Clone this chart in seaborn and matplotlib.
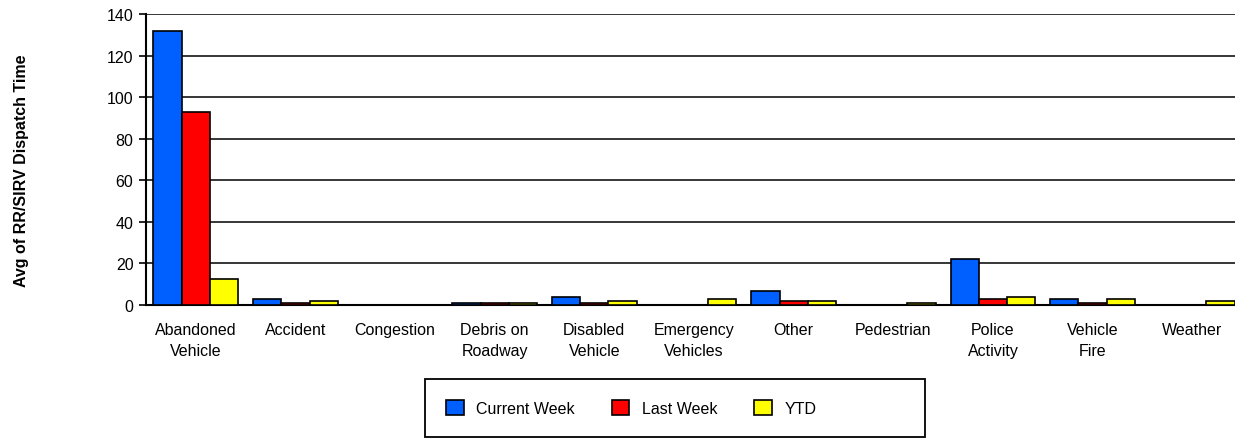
import seaborn as sns
import matplotlib.pyplot as plt
import pandas as pd
from matplotlib.patches import Patch, Rectangle

# 数据：各事件类型的平均派遣时间
categories = ['Abandoned\nVehicle', 'Accident', 'Congestion', 'Debris on\nRoadway',
              'Disabled\nVehicle', 'Emergency\nVehicles', 'Other', 'Pedestrian',
              'Police\nActivity', 'Vehicle\nFire', 'Weather']
current_week = [132, 3, 0, 1, 4, 0, 6.6, 0, 22, 3, 0]
last_week = [93, 1, 0, 1, 1, 0, 2, 0, 3, 1, 0]
ytd = [12.3, 2, 0, 1, 2, 3, 2, 1, 4, 3, 2]
series = ['Current Week', 'Last Week', 'YTD']
colors = ['#0060FF', '#FF0000', '#FFFF00']

df = pd.DataFrame({'category': categories * 3,
                   'value': current_week + last_week + ytd,
                   'series': [s for s in series for _ in categories]})

sns.set_style('white')
plt.rcParams['font.family'] = ['Liberation Sans', 'DejaVu Sans']
plt.rcParams['text.color'] = 'black'
plt.rcParams['xtick.color'] = 'black'
plt.rcParams['ytick.color'] = 'black'

fig = plt.figure(figsize=(12.35, 4.39), dpi=100)
ax = fig.add_axes([146 / 1235, 133 / 439, 1096 / 1235, 291 / 439])

sns.barplot(data=df, x='category', y='value', hue='series', order=categories,
            hue_order=series, palette=colors, saturation=1, width=0.85, gap=0,
            edgecolor='black', linewidth=1.2, legend=False, ax=ax, zorder=3)

ax.set_xlim(-0.5, 10.5)
ax.set_ylim(0, 140)
ax.set_yticks(range(0, 141, 20))
ax.yaxis.grid(True, color='black', linewidth=1.1)
ax.set_axisbelow(True)
for side in ['top', 'right']:
    ax.spines[side].set_visible(False)
for side in ['left', 'bottom']:
    ax.spines[side].set_color('black')
    ax.spines[side].set_linewidth(1.5)
ax.tick_params(axis='y', left=True, length=5, width=1.2, labelsize=11.5, pad=4)
ax.tick_params(axis='x', bottom=False, labelsize=11.5, pad=9)
for lbl in ax.get_xticklabels():
    lbl.set_linespacing(1.45)
ax.set_xlabel('')
ax.set_ylabel('')

fig.text(22 / 1235, 0.61, 'Avg of RR/SIRV Dispatch Time', rotation=90,
         ha='center', va='center', fontsize=11.5, fontweight='bold')

# 图例外框
fig.patches.append(Rectangle((425 / 1235, 1 / 439), 500 / 1235, 58 / 439,
                             transform=fig.transFigure, facecolor='white',
                             edgecolor='black', linewidth=1.3))
handles = [Patch(facecolor=c, edgecolor='black', linewidth=1.2, label=s)
           for c, s in zip(colors, series)]
fig.legend(handles=handles, loc='center left', ncol=3,
           bbox_to_anchor=(446 / 1235, 30 / 439), fontsize=11.5, frameon=False,
           handlelength=1.1, handleheight=1.1, handletextpad=0.8,
           columnspacing=2.3, borderpad=0, borderaxespad=0)

plt.savefig('out.png', dpi=100)
